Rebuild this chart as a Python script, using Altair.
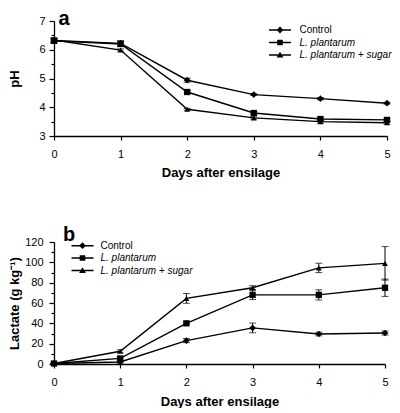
import altair as alt
import pandas as pd

# ---------------- data ----------------
days = [0, 1, 2, 3, 4, 5]
series_names = ["Control", "L. plantarum", "L. plantarum + sugar"]

ph_control = [6.32, 6.22, 4.94, 4.44, 4.30, 4.14]
ph_lp = [6.31, 6.20, 4.53, 3.80, 3.59, 3.56]
ph_sugar = [6.34, 5.99, 3.93, 3.63, 3.50, 3.46]
ph_control_err = [0.10, 0.10, 0.07, 0.03, 0.04, 0.03]
ph_lp_err = [0.06, 0.08, 0.04, 0.05, 0.04, 0.05]
ph_sugar_err = [0.05, 0.04, 0.03, 0.04, 0.05, 0.05]

lac_control = [0.5, 2.0, 23.0, 35.5, 29.5, 30.5]
lac_lp = [0.5, 5.5, 40.0, 68.0, 68.0, 75.0]
lac_sugar = [0.5, 12.5, 64.5, 75.0, 94.5, 99.0]
lac_control_err = [0.5, 1.0, 2.0, 4.8, 1.8, 2.0]
lac_lp_err = [0.5, 1.5, 1.2, 4.6, 5.0, 8.5]
lac_sugar_err = [0.5, 1.5, 4.8, 2.0, 4.6, 16.5]

ph_ticks = [3, 3.5, 4, 4.5, 5, 5.5, 6, 6.5, 7]
lac_ticks = [0, 10, 20, 30, 40, 50, 60, 70, 80, 90, 100, 110, 120]

FONT = "Liberation Sans"


def long_df(vals, errs):
    rows = []
    for s, v, e in zip(series_names, vals, errs):
        for d, vi, ei in zip(days, v, e):
            rows.append({"day": d, "series": s, "value": vi,
                         "lo": vi - ei, "hi": vi + ei})
    return pd.DataFrame(rows)


ph_df = long_df([ph_control, ph_lp, ph_sugar],
                [ph_control_err, ph_lp_err, ph_sugar_err])
lac_df = long_df([lac_control, lac_lp, lac_sugar],
                 [lac_control_err, lac_lp_err, lac_sugar_err])

# legend symbols: short line with marker (filled paths)
LINE = "M-2.75,-0.17H2.75V0.17H-2.75Z "
LEG_PATHS = {
    "Control": LINE + "M0,-0.85L0.85,0L0,0.85L-0.85,0Z",
    "L. plantarum": LINE + "M-0.7,-0.7H0.7V0.7H-0.7Z",
    "L. plantarum + sugar": LINE + "M0,-0.8L0.85,0.65H-0.85Z",
}


def panel(df, ytitle, ydom, yticks, major_test, fmt, width, height,
          letter, title_dx, title_offset, ext, tpad, lpad,
          xlabpad, xtitlepad, legx, legy_a, legy_b, lab_off, use_cond):
    if use_cond:
        tsize = {"condition": {"test": major_test, "value": 5}, "value": 3}
    else:
        tsize = 4
    yaxis = alt.Axis(values=yticks, format=fmt,
                     labelExpr=f"{major_test} ? datum.label : ''",
                     tickSize=tsize, labelPadding=lpad,
                     minExtent=ext, maxExtent=ext, titlePadding=tpad,
                     title=ytitle)
    xaxis = alt.Axis(values=days, format="d", tickSize=4,
                     labelPadding=xlabpad, titlePadding=xtitlepad,
                     labelFlush=False, title="Days after ensilage")
    xscale = alt.Scale(domain=[0, 5], nice=False, zero=False)
    yscale = alt.Scale(domain=ydom, nice=False, zero=False)

    def X():
        return alt.X("day:Q", scale=xscale, axis=xaxis, title="Days after ensilage")

    def Y(field):
        return alt.Y(f"{field}:Q", scale=yscale, axis=yaxis, title=ytitle)

    base = alt.Chart(df)
    lines = base.mark_line(color="black", strokeWidth=1.4).encode(
        x=X(), y=Y("value"), detail="series:N")
    rules = base.mark_rule(color="black", strokeWidth=1).encode(
        x=X(), y=Y("lo"), y2="hi:Q")
    cap_lo = base.mark_tick(orient="horizontal", color="black", size=7,
                            thickness=1).encode(x=X(), y=Y("lo"))
    cap_hi = base.mark_tick(orient="horizontal", color="black", size=7,
                            thickness=1).encode(x=X(), y=Y("hi"))
    points = base.mark_point(filled=True, color="black", opacity=1).encode(
        x=X(), y=Y("value"),
        shape=alt.Shape("series:N",
                        scale=alt.Scale(domain=series_names,
                                        range=["diamond", "square", "triangle-up"]),
                        legend=None),
        size=alt.Size("series:N",
                      scale=alt.Scale(domain=series_names, range=[45, 34, 45]),
                      legend=None),
    )
    ctrl = [series_names[0]]
    lps = series_names[1:]
    leg_a = alt.Chart(df[df.series.isin(ctrl)]).mark_point(
        filled=True, color="black", opacity=0, size=0, strokeWidth=0).encode(
        x=X(), y=Y("value"),
        shape=alt.Shape("series:N",
                        scale=alt.Scale(domain=ctrl, range=[LEG_PATHS[s] for s in ctrl]),
                        legend=alt.Legend(orient="none", legendX=legx, legendY=legy_a,
                                          title=None, labelOffset=lab_off,
                                          labelFontStyle="normal")))
    leg_b = alt.Chart(df[df.series.isin(lps)]).mark_point(
        filled=True, color="black", opacity=0, size=0, strokeWidth=0).encode(
        x=X(), y=Y("value"),
        shape=alt.Shape("series:N",
                        scale=alt.Scale(domain=lps, range=[LEG_PATHS[s] for s in lps]),
                        legend=alt.Legend(orient="none", legendX=legx, legendY=legy_b,
                                          title=None, labelOffset=lab_off,
                                          labelFontStyle="italic")))
    return alt.layer(lines, rules, cap_lo, cap_hi, points, leg_a, leg_b).resolve_scale(
        shape="independent", size="independent"
    ).properties(
        width=width, height=height,
        title=alt.TitleParams(letter, anchor="start", frame="group", dx=title_dx,
                              offset=title_offset, baseline="alphabetic",
                              font=FONT, fontSize=20, fontWeight="bold", color="black"),
    )


def build(use_cond):
    pa = panel(ph_df, "pH", [3, 7], ph_ticks, "datum.value % 1 == 0", ".0f",
               333, 115, "a", 4.5, -29.5, 24, 8.5, 4, 8, 7,
               221, 4, 16.5, 14.5, use_cond)
    pb = panel(lac_df, "Lactate  (g kg⁻¹)", [0, 120], lac_ticks,
               "datum.value % 20 == 0", "d",
               331, 122, "b", 9, -24.5, 30, 2.5, 6, 8, 8,
               23.5, -1.3, 11, 13, use_cond)
    ch = alt.vconcat(pa, pb, spacing=45).resolve_scale(
        x="independent", y="independent", shape="independent", size="independent"
    ).properties(
        padding={"left": 0, "top": 0, "right": 0, "bottom": 0}
    ).configure_view(stroke=None).configure_axis(
        grid=False, domainColor="black", domainWidth=1.3, tickColor="black",
        tickWidth=1.2, labelFont=FONT, labelFontSize=11, labelColor="black",
        titleFont=FONT, titleFontSize=13, titleFontWeight="bold", titleColor="black",
    ).configure_legend(
        labelFont=FONT, labelFontSize=10, labelColor="black", padding=0,
        rowPadding=2.5, symbolSize=64, symbolStrokeWidth=0, symbolOpacity=1,
        symbolFillColor="black",
    )
    return ch


try:
    chart = build(True)
    chart.to_dict()
except Exception:
    chart = build(False)

chart.save("out.html", embed_options={"renderer": "svg", "actions": False})
